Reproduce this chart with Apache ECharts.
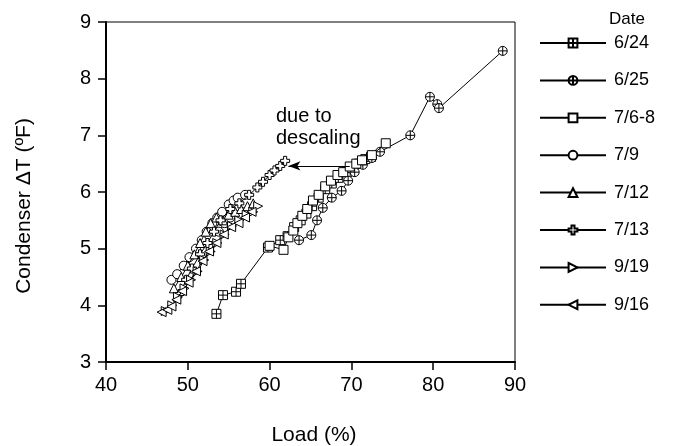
<!DOCTYPE html>
<html>
<head>
<meta charset="utf-8">
<script src="https://cdn.jsdelivr.net/npm/echarts@6/dist/echarts.min.js"></script>
<style>
html,body{margin:0;padding:0;background:#fff;}
#chart{width:675px;height:446px;}
</style>
</head>
<body>
<div id="chart"></div>
<script>
// ---- data ----
const seriesNames = ['6/24', '6/25', '7/6-8', '7/9', '7/12', '7/13', '9/19', '9/16'];
const xTicks = [40, 50, 60, 70, 80, 90];
const yTicks = [3, 4, 5, 6, 7, 8, 9];

const d0624 = [[53.5,3.85],[54.3,4.18],[55.9,4.24],[56.5,4.38],[59.8,5.02],[61.3,5.15],[62.2,5.22],[63.0,5.38],[63.8,5.5],[64.5,5.62],[65.2,5.75],[66.0,5.9],[66.8,6.05],[67.6,6.15],[68.4,6.25],[69.3,6.35],[70.1,6.42],[70.9,6.5],[71.7,6.58],[72.4,6.62]];
const d0625 = [[63.6,5.15],[65.1,5.24],[65.8,5.5],[66.5,5.72],[67.6,5.9],[68.8,6.02],[69.6,6.2],[70.4,6.35],[71.4,6.48],[72.5,6.6],[73.5,6.71],[77.2,7.0],[79.6,7.68],[80.5,7.55],[80.7,7.48],[88.5,8.49]];
const d0706 = [[60.0,5.05],[61.7,4.98],[62.3,5.2],[62.9,5.32],[63.4,5.45],[64.0,5.58],[64.6,5.7],[65.3,5.85],[66.0,5.95],[66.8,6.1],[67.5,6.2],[68.3,6.3],[69.0,6.35],[69.8,6.45],[70.6,6.5],[71.3,6.56],[72.5,6.65],[74.2,6.86]];
const d0709 = [[48.0,4.45],[48.7,4.55],[49.5,4.7],[50.2,4.85],[51.0,5.0],[51.7,5.15],[52.3,5.3],[53.0,5.45],[53.8,5.3],[54.5,5.45],[53.6,5.55],[54.2,5.65],[55.2,5.55],[55.0,5.78],[55.6,5.85],[56.1,5.9],[57.0,5.95]];
const d0712 = [[48.3,4.3],[49.2,4.5],[50.0,4.7],[50.8,4.9],[51.5,5.1],[52.2,5.3],[52.8,5.45],[53.5,5.55],[54.3,5.5],[55.0,5.6],[55.8,5.65],[56.5,5.7],[57.3,5.75],[58.0,5.8]];
const d0713 = [[49.0,4.2],[49.8,4.45],[50.5,4.65],[51.5,4.9],[52.4,5.1],[53.2,5.3],[54.0,5.5],[55.2,5.7],[56.3,5.8],[57.5,5.95],[58.5,6.08],[59.2,6.18],[60.0,6.3],[60.6,6.38],[61.3,6.46],[61.9,6.55]];
const d0919 = [[47.3,3.9],[48.1,4.0],[48.8,4.15],[49.6,4.3],[50.4,4.45],[51.2,4.6],[52.0,4.8],[52.8,4.95],[53.6,5.1],[54.5,5.25],[55.4,5.4],[56.3,5.5],[57.2,5.6],[58.0,5.65],[58.6,5.75]];
const d0916 = [[46.8,3.88],[47.5,3.92],[48.0,3.98],[48.6,4.1],[49.3,4.25],[50.1,4.4],[51.0,4.6],[51.8,4.78],[52.6,4.95],[53.5,5.1],[54.4,5.25],[55.3,5.38],[56.2,5.45],[57.0,5.55],[57.8,5.65]];
const arrowFrom = [69.8, 6.46];
const arrowTo = [62.3, 6.46];

const seriesData = [d0624, d0625, d0706, d0709, d0712, d0713, d0919, d0916];
const symbols = [
  'path://M0,0H10V10H0Z M5,0V10 M0,5H10',
  'path://M0,5A5,5,0,1,1,10,5A5,5,0,1,1,0,5Z M5,0V10 M0,5H10',
  'rect',
  'circle',
  'triangle',
  'path://M3.3,0H6.7V3.3H10V6.7H6.7V10H3.3V6.7H0V3.3H3.3Z',
  'path://M0,0L10,5L0,10Z',
  'path://M10,0L0,5L10,10Z'
];
const FONT = "'Liberation Sans', Arial, Helvetica, sans-serif";

const chart = echarts.init(document.getElementById('chart'), null, {renderer: 'canvas'});

const series = seriesNames.map((name, i) => ({
  name: name,
  type: 'line',
  data: seriesData[i],
  symbol: symbols[i],
  symbolSize: 9,
  showSymbol: true,
  showAllSymbol: true,
  lineStyle: {color: '#000', width: 1},
  itemStyle: {color: '#fff', borderColor: '#000', borderWidth: 1},
  emphasis: {disabled: true},
  z: 2 + i
}));
series[5].markLine = {
  silent: true,
  symbol: ['none', 'arrow'],
  symbolSize: [7, 12],
  lineStyle: {color: '#000', width: 1, type: 'solid'},
  label: {show: false},
  data: [[{coord: arrowFrom}, {coord: arrowTo}]]
};

chart.setOption({
  animation: false,
  backgroundColor: '#fff',
  textStyle: {fontFamily: FONT},
  grid: {left: 106, top: 22, right: 160, bottom: 84, show: true, borderColor: '#000', borderWidth: 1, backgroundColor: 'transparent'},
  xAxis: {
    type: 'value', min: 40, max: 90, interval: 10,
    axisLine: {show: true, lineStyle: {color: '#000', width: 2}},
    axisTick: {show: true, inside: false, length: 8, lineStyle: {color: '#000', width: 1.5}},
    axisLabel: {color: '#000', fontSize: 20, margin: 13, fontFamily: FONT},
    splitLine: {show: false}
  },
  yAxis: {
    type: 'value', min: 3, max: 9, interval: 1,
    axisLine: {show: true, lineStyle: {color: '#000', width: 2}},
    axisTick: {show: true, inside: false, length: 8, lineStyle: {color: '#000', width: 1.5}},
    axisLabel: {color: '#000', fontSize: 20, margin: 15, fontFamily: FONT},
    splitLine: {show: false}
  },
  legend: {
    orient: 'vertical',
    left: 534, top: 29,
    itemWidth: 66, itemHeight: 11, itemGap: 19.4,
    textStyle: {color: '#000', fontSize: 18, lineHeight: 18, fontFamily: FONT, padding: [0,0,0,3]},
    data: seriesNames,
    selectedMode: false
  },
  graphic: [
    {type: 'text', x: 609, y: 19, style: {text: 'Date', fill: '#000', font: '17px ' + FONT, verticalAlign: 'middle'}},
    {type: 'text', x: 276, y: 116, style: {text: 'due to', fill: '#000', font: '20px ' + FONT, verticalAlign: 'middle'}},
    {type: 'text', x: 276, y: 138, style: {text: 'descaling', fill: '#000', font: '20px ' + FONT, verticalAlign: 'middle'}},
    {type: 'text', x: 314, y: 435, style: {text: 'Load (%)', fill: '#000', font: '21px ' + FONT, align: 'center', verticalAlign: 'middle'}},
    {type: 'text', x: 24, y: 206, rotation: Math.PI / 2, style: {text: 'Condenser \u0394T (\u00BAF)', fill: '#000', font: '21px ' + FONT, align: 'center', verticalAlign: 'middle'}}
  ],
  series: series
});
</script>
</body>
</html>
